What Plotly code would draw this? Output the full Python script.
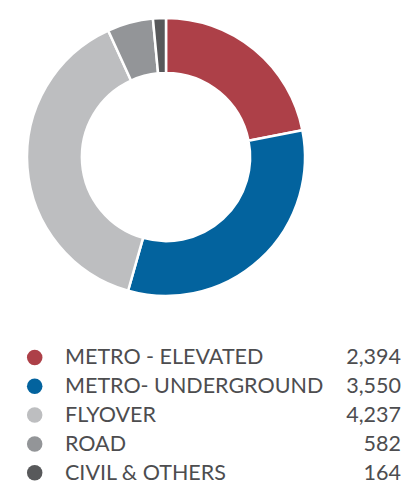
import plotly.graph_objects as go

categories = ["METRO - ELEVATED", "METRO- UNDERGROUND", "FLYOVER", "ROAD", "CIVIL & OTHERS"]
values = [2394, 3550, 4237, 582, 164]
value_labels = ["2,394", "3,550", "4,237", "582", "164"]
colors = ["#AD4048", "#03639E", "#BDBEC0", "#939598", "#58595B"]

W, H = 401, 484
cx, cy, r = 166, 157, 139

fig = go.Figure()
fig.add_trace(go.Pie(
    labels=categories, values=values, sort=False, direction="clockwise",
    rotation=0, hole=0.605, textinfo="none", hoverinfo="label+value",
    marker=dict(colors=colors, line=dict(color="white", width=2.5)),
    domain=dict(x=[(cx - r) / W, (cx + r) / W], y=[1 - (cy + r) / H, 1 - (cy - r) / H]),
    showlegend=False,
))

# legend rows (hidden axes in pixel-like units)
row0, step = 357.5, 28.8
rows = list(range(len(categories)))
text_rows = [i + 0.05 for i in rows]
y_top = -row0 / step
y_bot = (H - row0) / step

txt_font = dict(family="Lato, 'Open Sans', sans-serif", size=21.5, color="#4D4D4F")
fig.add_trace(go.Scatter(
    x=[34.7] * len(rows), y=rows, mode="markers",
    marker=dict(size=15.5, color=colors, line=dict(width=0)),
    xaxis="x", yaxis="y", showlegend=False, hoverinfo="skip", cliponaxis=False,
))
fig.add_trace(go.Scatter(
    x=[65] * len(rows), y=text_rows, mode="text", text=categories,
    textposition="middle right", textfont=txt_font,
    xaxis="x", yaxis="y", showlegend=False, hoverinfo="skip", cliponaxis=False,
))
fig.add_trace(go.Scatter(
    x=[401] * len(rows), y=text_rows, mode="text", text=value_labels,
    textposition="middle left", textfont=txt_font,
    xaxis="x", yaxis="y", showlegend=False, hoverinfo="skip", cliponaxis=False,
))

fig.update_layout(
    width=W, height=H, margin=dict(l=0, r=0, t=0, b=0),
    paper_bgcolor="white", plot_bgcolor="rgba(0,0,0,0)",
    xaxis=dict(range=[0, W], visible=False, fixedrange=True),
    yaxis=dict(range=[y_bot, y_top], visible=False, fixedrange=True),
)
fig.write_html("out.html", post_script="document.body.style.margin='0';",
               config={"displayModeBar": False})
